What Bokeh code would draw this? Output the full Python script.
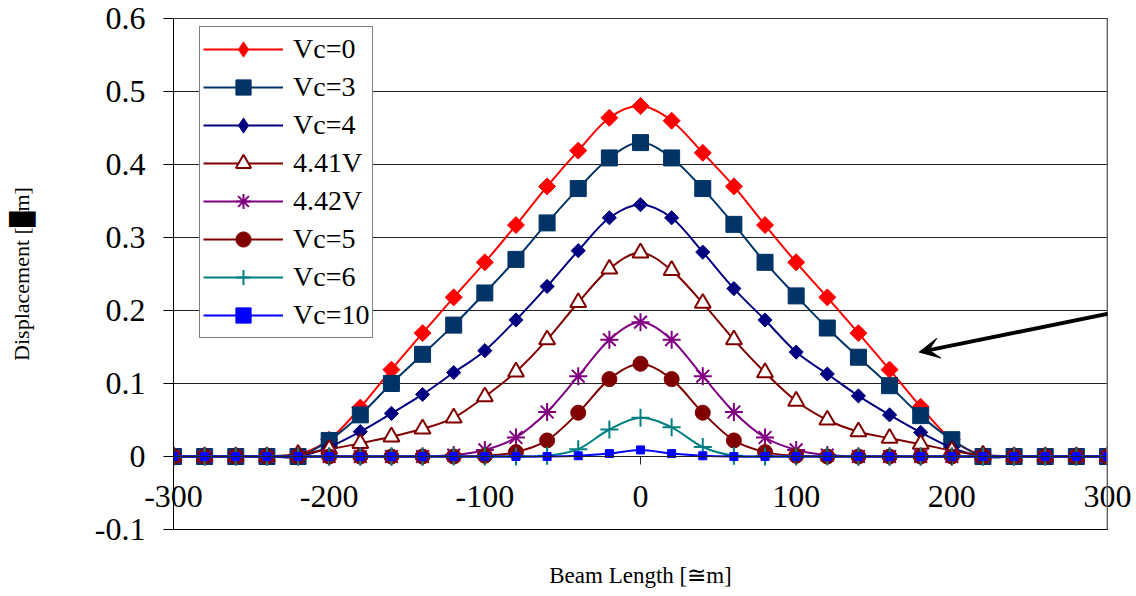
import math
from bokeh.plotting import figure
from bokeh.models import (Range1d, FixedTicker, CustomJSTickFormatter, Legend, LegendItem,
                          LinearAxis, Arrow, VeeHead, Span)
from bokeh.embed import file_html
from bokeh.resources import INLINE

# ---------------- data ----------------
beam_x = [-300, -280, -260, -240, -220, -200, -180, -160, -140, -120, -100, -80, -60, -40, -20,
          0, 20, 40, 60, 80, 100, 120, 140, 160, 180, 200, 220, 240, 260, 280, 300]

vc0 = [0, 0, 0, 0, 0.003, 0.023, 0.067, 0.119, 0.169, 0.218, 0.266, 0.317, 0.370, 0.419, 0.464,
       0.480, 0.460, 0.416, 0.370, 0.317, 0.266, 0.218, 0.169, 0.119, 0.068, 0.023, 0.002, 0, 0, 0, 0]
vc3 = [0, 0, 0, 0, 0, 0.022, 0.057, 0.100, 0.140, 0.180, 0.224, 0.270, 0.320, 0.367, 0.409,
       0.430, 0.409, 0.367, 0.318, 0.266, 0.220, 0.176, 0.136, 0.097, 0.056, 0.023, 0, 0, 0, 0, 0]
vc4 = [0, 0, 0, 0, 0, 0.013, 0.034, 0.059, 0.085, 0.115, 0.145, 0.187, 0.233, 0.282, 0.327,
       0.345, 0.327, 0.280, 0.230, 0.187, 0.143, 0.113, 0.083, 0.057, 0.033, 0.012, 0, 0, 0, 0, 0]
v441 = [0, 0, 0, 0, 0.003, 0.010, 0.018, 0.027, 0.038, 0.053, 0.082, 0.116, 0.160, 0.211, 0.257,
        0.279, 0.255, 0.210, 0.160, 0.115, 0.076, 0.050, 0.034, 0.025, 0.017, 0.008, 0.002, 0, 0, 0, 0]
v442 = [0, 0, 0, 0, 0, 0, 0, 0, 0, 0.002, 0.009, 0.026, 0.061, 0.110, 0.160,
        0.184, 0.160, 0.110, 0.061, 0.026, 0.009, 0.002, 0, 0, 0, 0, 0, 0, 0, 0, 0]
vc5 = [0, 0, 0, 0, 0, 0, 0, 0, 0, 0, 0.001, 0.006, 0.022, 0.060, 0.106,
       0.127, 0.106, 0.060, 0.022, 0.006, 0.001, 0, 0, 0, 0, 0, 0, 0, 0, 0, 0]
vc6 = [0, 0, 0, 0, 0, 0, 0, 0, 0, 0, 0, 0, 0.001, 0.010, 0.037,
       0.053, 0.040, 0.013, 0.001, 0, 0, 0, 0, 0, 0, 0, 0, 0, 0, 0, 0]
vc10 = [0, 0, 0, 0, 0, 0, 0, 0, 0, 0, 0, 0, 0, 0.001, 0.004,
        0.009, 0.004, 0.001, 0, 0, 0, 0, 0, 0, 0, 0, 0, 0, 0, 0, 0]

series_labels = ["Vc=0", "Vc=3", "Vc=4", "4.41V", "4.42V", "Vc=5", "Vc=6", "Vc=10"]
y_ticks = [-0.1, 0, 0.1, 0.2, 0.3, 0.4, 0.5, 0.6]
x_ticks = [-300, -200, -100, 0, 100, 200, 300]
x_title = "Beam Length [\u2245m]"
y_title = "Displacement [\u2588m]"

# arrow annotation endpoints (data units)
arrow_start = (320, 0.204)
arrow_end = (179, 0.143)

FONT = "Liberation Serif"


def smooth_segments(xs, ys):
    """Bezier control points (Catmull-Rom style) so the line passes smoothly through every data point."""
    n = len(xs)
    out = dict(x0=[], y0=[], x1=[], y1=[], cx0=[], cy0=[], cx1=[], cy1=[])
    for i in range(n - 1):
        xa_, ya_ = xs[max(i - 1, 0)], ys[max(i - 1, 0)]
        xb, yb = xs[i], ys[i]
        xc, yc = xs[i + 1], ys[i + 1]
        xd, yd = xs[min(i + 2, n - 1)], ys[min(i + 2, n - 1)]
        out["x0"].append(xb); out["y0"].append(yb)
        out["x1"].append(xc); out["y1"].append(yc)
        out["cx0"].append(xb + (xc - xa_) / 6.0); out["cy0"].append(yb + (yc - ya_) / 6.0)
        out["cx1"].append(xc - (xd - xb) / 6.0); out["cy1"].append(yc - (yd - yb) / 6.0)
    return out


# ---------------- figure ----------------
p = figure(width=1136, height=596, output_backend="svg", toolbar_location=None,
           x_range=Range1d(-300, 300), y_range=Range1d(-0.1, 0.6),
           min_border_left=173, min_border_right=29, min_border_top=18, min_border_bottom=67)
p.background_fill_color = "white"
p.border_fill_color = "white"
p.outline_line_color = "#333333"
p.outline_line_width = 1

# bottom axis: tick labels lifted up into the band between 0 and -0.1, plus axis title
xa = p.xaxis[0]
xa.ticker = FixedTicker(ticks=x_ticks)
xa.formatter = CustomJSTickFormatter(code="return tick.toFixed(0);")
xa.major_tick_out = 0
xa.major_tick_in = 0
xa.minor_tick_line_color = None
xa.major_tick_line_color = None
xa.axis_line_color = "black"
xa.major_label_standoff = -44
xa.major_label_text_font = FONT
xa.major_label_text_font_size = "32px"
xa.major_label_text_color = "black"
xa.axis_label = x_title
xa.axis_label_text_font = FONT
xa.axis_label_text_font_size = "23px"
xa.axis_label_text_font_style = "normal"
xa.axis_label_text_color = "black"
xa.axis_label_standoff = 53

# tick marks on the zero line
zero_axis = LinearAxis(fixed_location=0, ticker=FixedTicker(ticks=x_ticks),
                       formatter=CustomJSTickFormatter(code="return '';"),
                       major_tick_in=8, major_tick_out=0, minor_tick_line_color=None,
                       major_label_standoff=0, axis_line_color="#222222",
                       major_tick_line_color="#222222", major_tick_line_width=1)
p.add_layout(zero_axis, "above")

ya = p.yaxis[0]
ya.ticker = FixedTicker(ticks=y_ticks)
ya.formatter = CustomJSTickFormatter(code="return Math.abs(tick) < 1e-9 ? '0' : tick.toFixed(1);")
ya.major_tick_out = 10
ya.major_tick_in = 0
ya.minor_tick_line_color = None
ya.axis_line_color = "black"
ya.major_tick_line_color = "black"
ya.major_label_standoff = 18
ya.major_label_text_font = FONT
ya.major_label_text_font_size = "32px"
ya.major_label_text_color = "black"
ya.axis_label = y_title
ya.axis_label_text_font = FONT
ya.axis_label_text_font_size = "22px"
ya.axis_label_text_font_style = "normal"
ya.axis_label_text_color = "black"
ya.axis_label_standoff = 58

p.xgrid.visible = False
p.ygrid.ticker = FixedTicker(ticks=y_ticks)
p.ygrid.grid_line_color = "#222222"
p.ygrid.grid_line_width = 1

p.add_layout(Span(location=300, dimension="height", line_color="#888888", line_width=2))

# ---------------- series ----------------
styles = [
    dict(y=vc0, color="#FF0000", marker="square", size=12, angle=math.pi / 4, fill="#FF0000", lw=1, leg="diamond"),
    dict(y=vc3, color="#003366", marker="square", size=16, angle=0, fill="#003366", lw=1, leg=None),
    dict(y=vc4, color="#000080", marker="square", size=10, angle=math.pi / 4, fill="#000080", lw=1, leg="diamond"),
    dict(y=v441, color="#800000", marker="triangle", size=16, angle=0, fill="white", lw=2, leg=None),
    dict(y=v442, color="#800080", marker="asterisk", size=18, angle=0, fill="#800080", lw=2, leg=None),
    dict(y=vc5, color="#800000", marker="circle", size=15, angle=0, fill="#800000", lw=1, leg=None),
    dict(y=vc6, color="#008080", marker="cross", size=18, angle=0, fill="#008080", lw=2, leg=None),
    dict(y=vc10, color="#0000FF", marker="square", size=8, angle=0, fill="#0000FF", lw=1, leg=None),
]

items = []
for lab, st in zip(series_labels, styles):
    seg = smooth_segments(beam_x, st["y"])
    r_line = p.bezier(x0=seg["x0"], y0=seg["y0"], x1=seg["x1"], y1=seg["y1"],
                      cx0=seg["cx0"], cy0=seg["cy0"], cx1=seg["cx1"], cy1=seg["cy1"],
                      line_color=st["color"], line_width=2)
    r_leg = None
    if st["leg"] is not None:
        # narrow diamond hidden under the rotated square; its symbol is shown in the legend
        r_leg = p.scatter(beam_x, st["y"], marker=st["leg"], size=st["size"],
                          fill_color=st["fill"], line_color=st["color"], line_width=st["lw"])
    r_mark = p.scatter(beam_x, st["y"], marker=st["marker"], size=st["size"], angle=st["angle"],
                       fill_color=st["fill"], line_color=st["color"], line_width=st["lw"])
    items.append(LegendItem(label=lab, renderers=[r_line, r_leg if r_leg is not None else r_mark]))

legend = Legend(items=items, location=(26, 191))
legend.label_text_font = FONT
legend.label_text_font_size = "28px"
legend.label_text_color = "black"
legend.glyph_width = 80
legend.glyph_height = 38
legend.label_height = 38
legend.spacing = 0
legend.padding = 3
legend.label_standoff = 10
legend.border_line_color = "black"
legend.border_line_width = 1
legend.background_fill_color = "white"
legend.background_fill_alpha = 1
p.add_layout(legend)

# ---------------- annotation arrow ----------------
p.add_layout(Arrow(x_start=arrow_start[0], y_start=arrow_start[1],
                   x_end=arrow_end[0], y_end=arrow_end[1],
                   line_color="black", line_width=4,
                   end=VeeHead(size=20, fill_color="black", line_color="black")))

open("out.html", "w").write(file_html(p, INLINE))
